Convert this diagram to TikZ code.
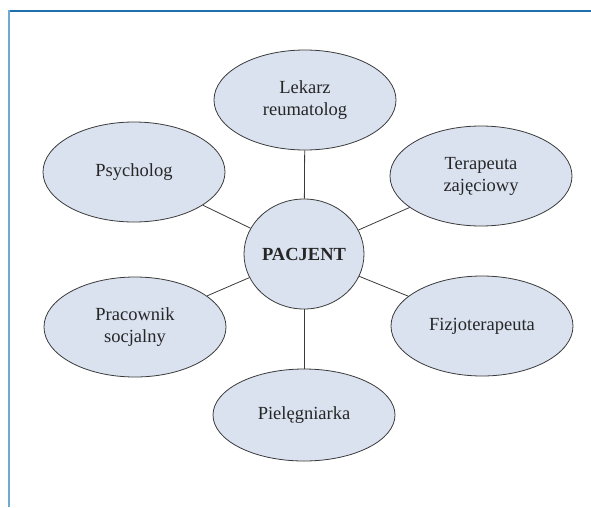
\documentclass[tikz,border=0pt]{standalone}
\usepackage{fontspec}
\setmainfont{Liberation Serif}
\usetikzlibrary{shapes.geometric}
\definecolor{topblue}{HTML}{1F6FAD}
\definecolor{sideblue}{HTML}{72A9D1}
\definecolor{ellfill}{HTML}{DAE2F0}
\definecolor{edgegray}{HTML}{3A3A3A}
\tikzset{
  bubble/.style={ellipse, draw=edgegray, line width=0.8pt, fill=ellfill,
    minimum width=#1, minimum height=100pt, inner sep=0pt, align=center,
    font=\fontsize{18.5}{22}\selectfont, text=black!85},
  bubble/.default=182pt,
  link/.style={draw=edgegray, line width=0.8pt}
}
\begin{document}
\begin{tikzpicture}[x=1pt,y=-1pt]
\useasboundingbox (0,0) rectangle (591,507);
\draw[topblue, line width=2.2pt] (8,11) -- (591,11);
\draw[sideblue, line width=2.2pt] (9,10) -- (9,507);
\node[bubble] (lek) at (305,100) {Lekarz\\reumatolog};
\node[bubble] (psy) at (134,172) {Psycholog};
\node[bubble] (ter) at (481,176) {Terapeuta\\zajęciowy};
\node[bubble] (pra) at (135,327) {Pracownik\\socjalny};
\node[bubble] (fiz) at (482,326) {Fizjoterapeuta};
\node[bubble, minimum height=92pt] (pie) at (304,415) {Pielęgniarka};
\node[bubble=120pt, minimum height=110pt, font=\fontsize{18.5}{22}\selectfont\bfseries] (pac) at (304,254) {PACJENT};
\foreach \n in {lek,psy,ter,pra,fiz,pie}{\draw[link] (pac) -- (\n);}
\end{tikzpicture}
\end{document}
